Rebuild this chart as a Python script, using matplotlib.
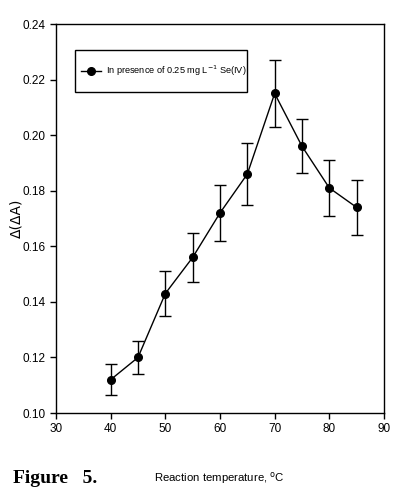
import matplotlib
matplotlib.use("Agg")
import matplotlib.pyplot as plt
from matplotlib.patches import Rectangle

# Temperatura reakcji i odpowiedź z odchyleniem
temperature = [40, 45, 50, 55, 60, 65, 70, 75, 80, 85]
delta_a = [0.112, 0.120, 0.143, 0.156, 0.172, 0.186, 0.215, 0.196, 0.181, 0.174]
error = [0.0055, 0.006, 0.008, 0.0087, 0.010, 0.011, 0.012, 0.0097, 0.010, 0.010]
x_ticks = [30, 40, 50, 60, 70, 80, 90]
y_ticks = [0.10, 0.12, 0.14, 0.16, 0.18, 0.20, 0.22, 0.24]

plt.rcParams["font.family"] = ["Liberation Sans", "DejaVu Sans"]

fig = plt.figure(figsize=(3.98, 4.96), dpi=100)
ax = fig.add_axes([0.1407, 0.1673, 0.8241, 0.7843])

ax.errorbar(temperature, delta_a, yerr=error, color="black", marker="o",
            markersize=5.5, linewidth=1, elinewidth=1, capsize=4, capthick=1,
            label=r"In presence of 0.25 mg L$^{-1}$ Se(IV)", zorder=3)

ax.set_xlim(30, 90)
ax.set_ylim(0.10, 0.24)
ax.set_xticks(x_ticks)
ax.set_yticks(y_ticks)
ax.set_yticklabels([f"{v:.2f}" for v in y_ticks])
ax.tick_params(direction="out", length=4, width=1, labelsize=8.5,
               top=False, right=False)
for s in ax.spines.values():
    s.set_linewidth(1)

# w legendzie tylko linia z punktem, bez słupków błędu
handles, labels = ax.get_legend_handles_labels()
handles = [h[0] for h in handles]
leg = ax.legend(handles, labels, loc="center left", bbox_to_anchor=(0.077, 0.879),
                fontsize=6.6, frameon=False, handlelength=2.2, handletextpad=0.5,
                borderpad=0, borderaxespad=0)
# ramka legendy rysowana osobno (szersza w pionie niż w poziomie)
ax.add_patch(Rectangle((0.058, 0.825), 0.524, 0.108, transform=ax.transAxes,
                       facecolor="none", edgecolor="black", linewidth=1,
                       zorder=4))

fig.text(0.040, 0.56, "\u0394(\u0394A)", rotation=90, ha="center", va="center",
         fontsize=10, family=["DejaVu Sans"])
fig.text(0.55, 0.036, "Reaction temperature, $^{\\rm o}$C", ha="center",
         va="center", fontsize=8.2)
fig.text(0.033, 0.036, "Figure   5.", ha="left", va="center", fontsize=14,
         fontweight="bold", family=["Liberation Serif", "DejaVu Serif"])

fig.savefig("out.png", dpi=100)
